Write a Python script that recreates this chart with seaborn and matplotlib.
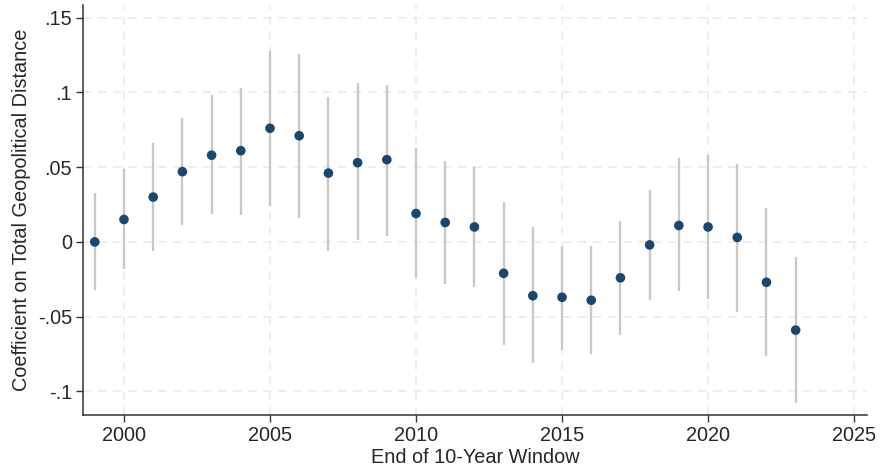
import numpy as np
import pandas as pd
import seaborn as sns
import matplotlib.pyplot as plt

# window end years, point estimates and 95% CI bounds
years = list(range(1999, 2024))
coef = [0.000, 0.015, 0.030, 0.047, 0.058, 0.061, 0.076, 0.071, 0.046, 0.053,
        0.055, 0.019, 0.013, 0.010, -0.021, -0.036, -0.037, -0.039, -0.024, -0.002,
        0.011, 0.010, 0.003, -0.027, -0.059]
ci_hi = [0.033, 0.049, 0.066, 0.083, 0.098, 0.103, 0.128, 0.126, 0.097, 0.106,
         0.105, 0.063, 0.054, 0.050, 0.027, 0.010, -0.003, -0.003, 0.014, 0.035,
         0.056, 0.058, 0.052, 0.023, -0.010]
ci_lo = [-0.032, -0.018, -0.006, 0.011, 0.019, 0.018, 0.024, 0.016, -0.006, 0.001,
         0.004, -0.024, -0.028, -0.030, -0.069, -0.081, -0.072, -0.075, -0.062, -0.039,
         -0.033, -0.038, -0.047, -0.076, -0.108]

x_ticks = [2000, 2005, 2010, 2015, 2020, 2025]
y_ticks = [-0.1, -0.05, 0, 0.05, 0.1, 0.15]
y_labels = ['-.1', '-.05', '0', '.05', '.1', '.15']

df = pd.DataFrame({'year': years, 'coef': coef, 'lo': ci_lo, 'hi': ci_hi})

sns.set_style('white')
plt.rcParams['font.family'] = ['Liberation Sans', 'DejaVu Sans']

fig = plt.figure(figsize=(8.84, 4.76), dpi=100)
ax = fig.add_axes([0.094, 0.128, 0.887, 0.862])

# dashed grid like Stata's default scheme
for t in x_ticks:
    ax.axvline(t, color='#ebebeb', lw=1.2, ls=(0, (5, 4)), zorder=0)
for t in y_ticks:
    ax.axhline(t, color='#ebebeb', lw=1.2, ls=(0, (5, 4)), zorder=0)

ax.vlines(df['year'], df['lo'], df['hi'], color='#c8c8c8', lw=1.7, zorder=1)
sns.scatterplot(data=df, x='year', y='coef', color='#1a476f', s=48,
                edgecolor='none', zorder=2, ax=ax)

ax.set_xlim(1998.6, 2025.45)
ax.set_ylim(-0.1158, 0.1586)
ax.set_xticks(x_ticks)
ax.set_yticks(y_ticks)
ax.set_yticklabels(y_labels)
ax.tick_params(axis='both', labelsize=14.3, length=5, width=1, color='#333333',
               direction='out', left=True, bottom=True, pad=3)
ax.set_xlabel('End of 10-Year Window', fontsize=14.3, labelpad=2)
ax.set_ylabel('Coefficient on Total Geopolitical Distance', fontsize=14.3, labelpad=5)

for side in ['top', 'right']:
    ax.spines[side].set_visible(False)
for side in ['left', 'bottom']:
    ax.spines[side].set_color('#333333')
    ax.spines[side].set_linewidth(1.1)

fig.savefig('out.png', dpi=100)
